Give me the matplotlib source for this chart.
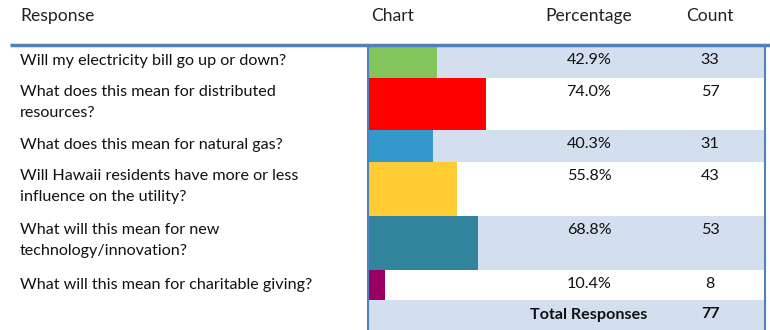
import matplotlib
matplotlib.use("Agg")
import matplotlib.pyplot as plt

# data
responses = [
    "Will my electricity bill go up or down?",
    "What does this mean for distributed\nresources?",
    "What does this mean for natural gas?",
    "Will Hawaii residents have more or less\ninfluence on the utility?",
    "What will this mean for new\ntechnology/innovation?",
    "What will this mean for charitable giving?",
]
percentages = [42.9, 74.0, 40.3, 55.8, 68.8, 10.4]
counts = [33, 57, 31, 43, 53, 8]
total_responses = 77
bar_colors = ["#83C55B", "#FF0000", "#3399CC", "#FFCC33", "#31849B", "#990066"]

plt.rcParams['font.family'] = ['Lato', 'DejaVu Sans']

fig = plt.figure(figsize=(7.7, 3.3), dpi=100)
ax = fig.add_axes([0, 0, 1, 1])
ax.set_xlim(0, 770)
ax.set_ylim(330, 0)
ax.axis("off")

# layout (pixel grid)
row_edges = [46, 78, 130, 162, 216, 270, 300, 330]
band = "#D3DFEE"
line_col = "#4F81BD"
x_chart = 368
x_right = 765
px_per_pct = 1.58
x_pct = 589
x_cnt = 710
fs = 11.6
pad = 7.5

# header
for txt, x, ha in [("Response", 20, "left"), ("Chart", 371, "left"),
                   ("Percentage", x_pct, "center"), ("Count", x_cnt, "center")]:
    ax.text(x, 16, txt, ha=ha, va="center", fontsize=12.6, color="#222222")

# banded background
for i in range(len(row_edges) - 1):
    if i % 2 == 0:
        ax.fill_between([x_chart, x_right], row_edges[i], row_edges[i + 1],
                        color=band, lw=0)

# rows
for i, (lab, p, c, col) in enumerate(zip(responses, percentages, counts, bar_colors)):
    top, bot = row_edges[i], row_edges[i + 1]
    ax.barh((top + bot) / 2, p * px_per_pct, left=x_chart + 1, height=bot - top,
            color=col, lw=0)
    ax.text(20, top + pad, lab, ha="left", va="top", fontsize=fs,
            linespacing=1.6, color="#111111")
    ax.text(x_pct, top + pad, f"{p:.1f}%", ha="center", va="top", fontsize=fs,
            color="#111111")
    ax.text(x_cnt, top + pad, str(c), ha="center", va="top", fontsize=fs,
            color="#111111")

# total row
top = row_edges[-2]
ax.text(x_pct, top + pad, "Total Responses", ha="center", va="top", fontsize=fs,
        fontweight="bold", color="#111111")
ax.text(x_cnt, top + pad, str(total_responses), ha="center", va="top", fontsize=fs,
        fontweight="bold", color="#111111")

# borders
ax.plot([10, 770], [44.5, 44.5], color=line_col, lw=2.5, solid_capstyle="butt")
ax.plot([x_chart, x_chart], [45, 330], color=line_col, lw=1.5)
ax.plot([x_right, x_right], [45, 330], color=line_col, lw=1.5)

fig.savefig("out.png", dpi=100)
